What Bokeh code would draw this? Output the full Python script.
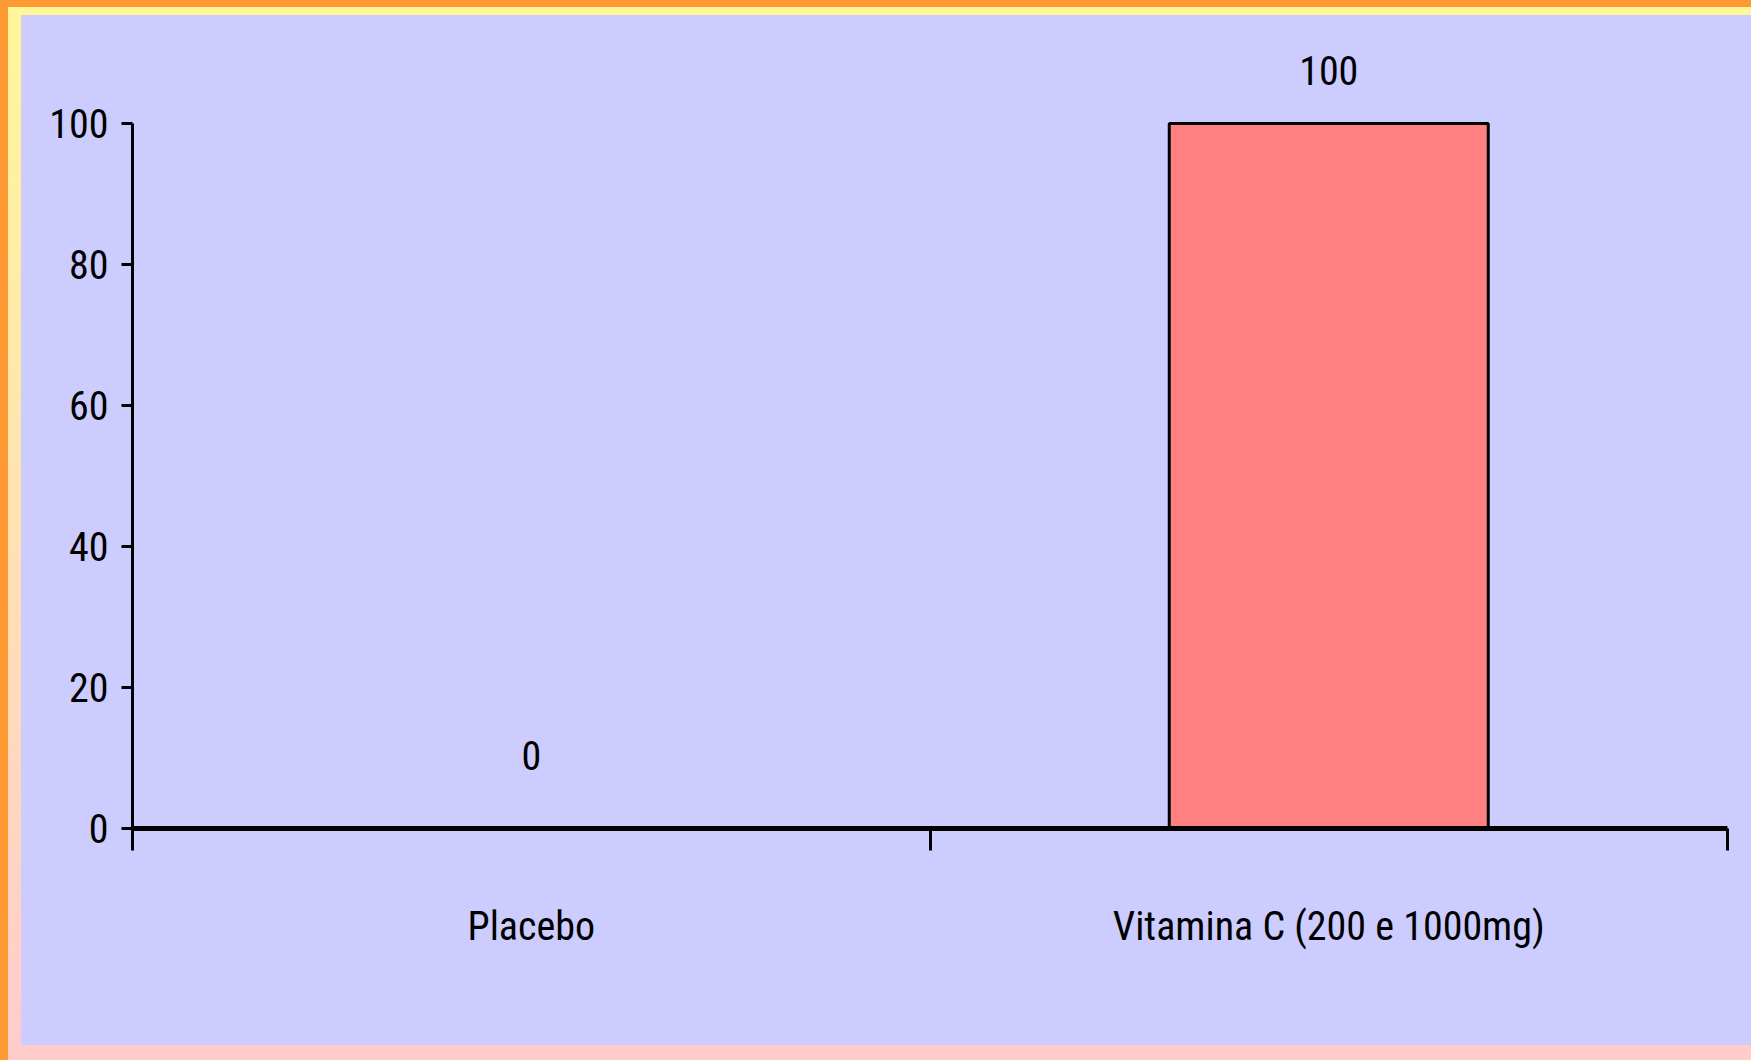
from bokeh.plotting import figure
from bokeh.models import Range1d, FixedTicker, ColumnDataSource
from bokeh.core.properties import value
from bokeh.embed import file_html
from bokeh.resources import INLINE

# ---- data ----
categories = ["Placebo", "Vitamina C (200 e 1000mg)"]
values = [0, 100]
y_ticks = [0, 20, 40, 60, 80, 100]

FONT = "'Roboto Condensed', 'DejaVu Sans Condensed', sans-serif"
LAV = "#CCCCFF"

W, H = 1751, 1060
top_b, bot_b, left_b, right_b = 20, 232, 132, 24
frame_h = H - top_b - bot_b
ymax = 100 * frame_h / 705.0

p = figure(width=W, height=H, x_range=Range1d(0, len(categories)), y_range=Range1d(0, ymax),
           output_backend="svg", toolbar_location=None,
           min_border_left=left_b, min_border_right=right_b,
           min_border_top=top_b, min_border_bottom=bot_b)
p.background_fill_color = LAV
p.border_fill_alpha = 0
p.outline_line_color = None
p.xgrid.visible = False
p.ygrid.visible = False
p.styles = {
    "background": (
        "linear-gradient(#FF9933,#FF9933) 0 0/100% 7px no-repeat,"
        "linear-gradient(#FF9933,#FF9933) 0 0/8px 100% no-repeat,"
        "linear-gradient(#FFF799,#FFF799) 0 7px/100% 8px no-repeat,"
        "linear-gradient(#FFF799,#FFCCCC) 8px 0/13px 100% no-repeat,"
        "linear-gradient(#FFCCCC,#FFCCCC) 0 1045px/100% 15px no-repeat,"
        + LAV
    )
}

xs = [i + 0.5 for i in range(len(categories))]
src = ColumnDataSource(dict(x=xs, top=values, label=[str(v) for v in values],
                            off=[-53 if v > 0 else -73 for v in values]))

p.vbar(x="x", top="top", bottom=0, width=0.4, source=src,
       fill_color="#FF8080", line_color="black", line_width=3)

p.text(x="x", y="top", text="label", y_offset="off", source=src,
       text_align="center", text_baseline="middle",
       text_font=value(FONT), text_font_size="40px", text_color="black")

# x axis: labels at category centres, ticks at category boundaries
xa = p.xaxis[0]
xa.ticker = FixedTicker(ticks=xs, minor_ticks=list(range(len(categories) + 1)))
xa.major_label_overrides = {x: c for x, c in zip(xs, categories)}
xa.major_tick_out = 0
xa.major_tick_in = 0
xa.minor_tick_out = 22
xa.minor_tick_in = 0
xa.minor_tick_line_width = 3
xa.minor_tick_line_color = "black"
xa.axis_line_width = 5
xa.axis_line_color = "black"
xa.major_label_standoff = 52
xa.major_label_text_font = FONT
xa.major_label_text_font_size = "40px"
xa.major_label_text_color = "black"

ya = p.yaxis[0]
ya.ticker = FixedTicker(ticks=y_ticks, minor_ticks=[])
ya.bounds = (0, 100)
ya.major_tick_out = 11
ya.major_tick_in = 0
ya.major_tick_line_width = 3
ya.major_tick_line_color = "black"
ya.axis_line_width = 3
ya.axis_line_color = "black"
ya.major_label_standoff = 13
ya.major_label_text_font = FONT
ya.major_label_text_font_size = "40px"
ya.major_label_text_color = "black"

open("out.html", "w").write(file_html(p, INLINE))
